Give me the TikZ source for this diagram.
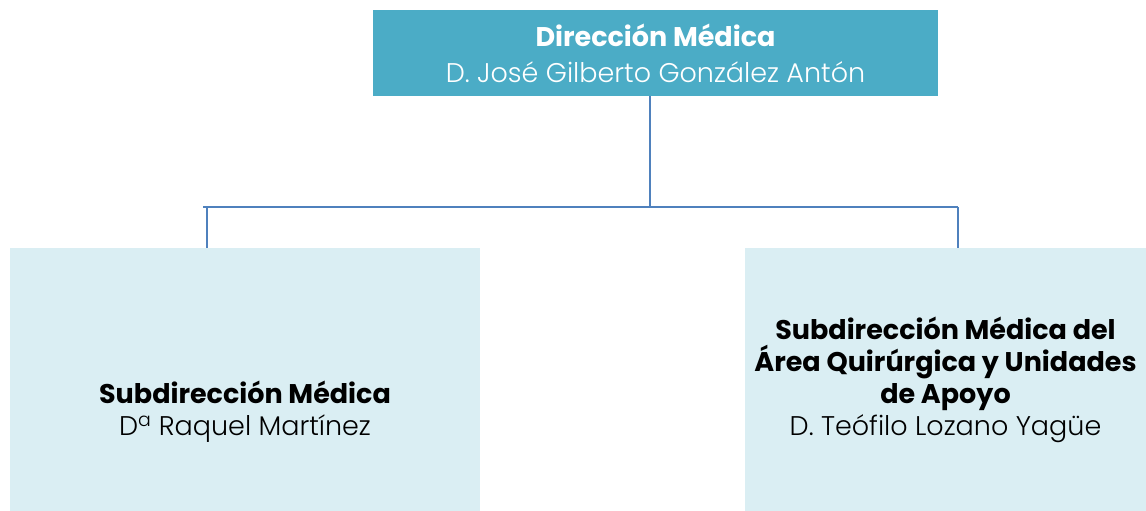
\documentclass[tikz,border=0pt]{standalone}
\usepackage{fontspec}
\setmainfont{Poppins}
\newfontfamily\namefont{Poppins Light}
\definecolor{topblue}{HTML}{4BACC6}
\definecolor{paleblue}{HTML}{DAEEF3}
\definecolor{linkblue}{HTML}{4F81BD}
\begin{document}
\begin{tikzpicture}[x=1pt,y=-1pt,
        headbox/.style={fill=topblue,text=white,align=center,inner sep=0pt,
            font=\fontsize{27}{36}\selectfont},
        subbox/.style={fill=paleblue,text=black,align=center,inner sep=0pt,
            minimum height=263,font=\fontsize{27}{32}\selectfont},
        link/.style={draw=linkblue,line width=2}]
        \useasboundingbox (0,0) rectangle (1146,511);

        \node[headbox,minimum width=565,minimum height=86] (dir) at (655.5,53)
            {\textbf{Dirección Médica}\\ {\namefont D. José Gilberto González Antón}};

        \node[subbox,minimum width=470] (sub1) at (245,379.5)
            {\strut\\ \strut\\ \textbf{Subdirección Médica}\\
             {\namefont D\textsuperscript{a} Raquel Martínez}};
        \node[subbox,minimum width=401] (sub2) at (945.5,379.5)
            {\textbf{Subdirección Médica del}\\ \textbf{Área Quirúrgica y Unidades}\\
             \textbf{de Apoyo}\\ {\namefont D. Teófilo Lozano Yagüe}};

        \coordinate (jl) at (207,207);
        \coordinate (jr) at (958,207);
        \draw[link] (dir.south -| 650,0) -- (650,207);
        \draw[link] (jl) ++(-4,0) -- (jr);
        \draw[link] (jl) -- (jl |- sub1.north);
        \draw[link] (jr) -- (jr |- sub2.north);

    \end{tikzpicture}
\end{document}
